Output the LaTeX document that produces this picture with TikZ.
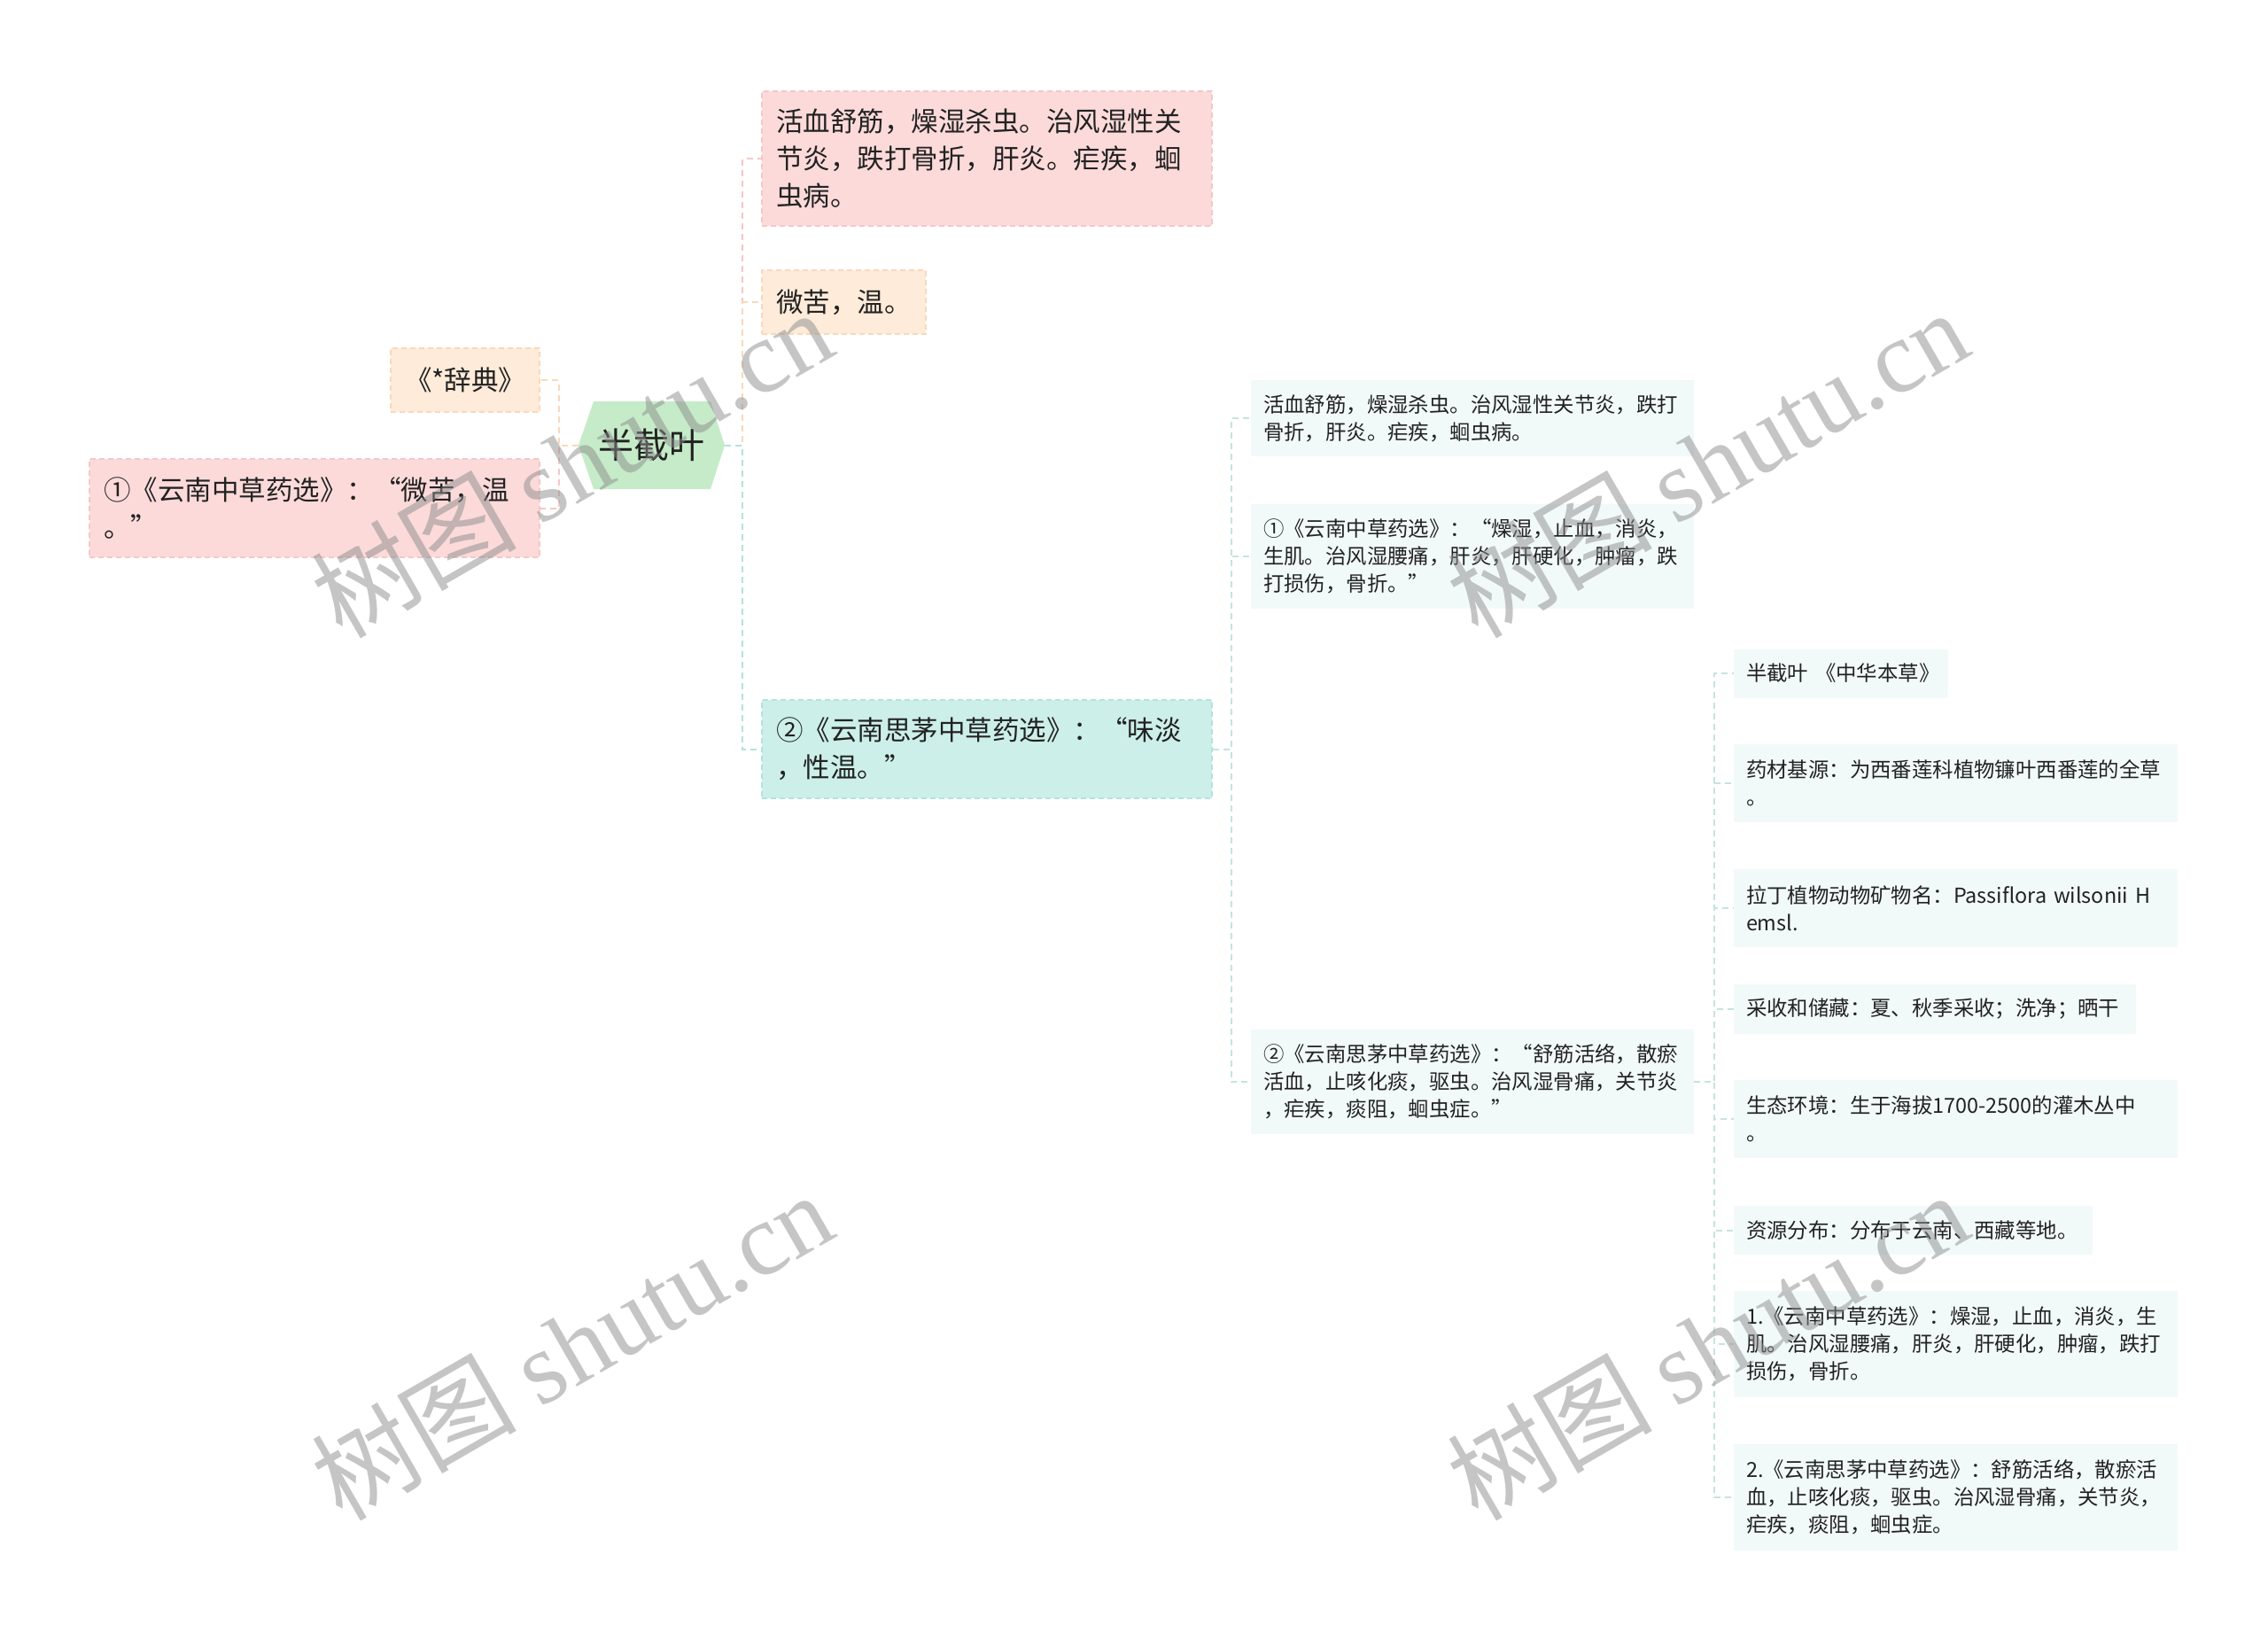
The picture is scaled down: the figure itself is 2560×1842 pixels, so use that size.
\documentclass[tikz,border=0pt]{standalone}
\usepackage{fontspec}
\setmainfont{Noto Sans CJK SC}
\newfontfamily\cjkwm{Noto Sans CJK SC}
\newfontfamily\wmserif{Liberation Serif}
\definecolor{pinkfill}{HTML}{FCDADA}
\definecolor{pinkline}{HTML}{F6C6C6}
\definecolor{orangefill}{HTML}{FEEBD9}
\definecolor{orangeline}{HTML}{FAD8BA}
\definecolor{tealfill}{HTML}{CCEFE9}
\definecolor{tealline}{HTML}{B3E3DA}
\definecolor{greenfill}{HTML}{C6EBC8}
\definecolor{smallfill}{HTML}{F2F9F9}
\definecolor{smallline}{HTML}{C6E3E0}
\definecolor{txt}{HTML}{222222}
\tikzset{
  conn/.style={line width=2pt, dash pattern=on 7pt off 5pt},
  bigbox/.style={rectangle, font=\fontsize{30.5pt}{42pt}\selectfont, inner xsep=16pt, inner ysep=0pt, align=left, text=txt, line width=1.5pt, dash pattern=on 6pt off 4pt},
  smallbox/.style={rectangle, font=\fontsize{23.4pt}{31pt}\selectfont, inner xsep=14pt, inner ysep=0pt, align=left, text=txt, fill=smallfill},
  pinkbox/.style={bigbox, fill=pinkfill, draw=pinkline},
  orangebox/.style={bigbox, fill=orangefill, draw=orangeline},
  tealbox/.style={bigbox, fill=tealfill, draw=tealline},
  wmark/.style={rotate=30, font=\fontsize{116pt}{116pt}\selectfont, text=black!45, text opacity=0.5, inner sep=0pt}
}
\begin{document}
\begin{tikzpicture}[x=1pt,y=1pt]
\fill[white] (0,0) rectangle (2560,-1842);
\useasboundingbox (0,0) rectangle (2560,-1842);

% root hexagon
\fill[greenfill] (653,-502.5) -- (670,-453) -- (802,-453) -- (818,-502.5) -- (802,-552) -- (670,-552) -- cycle;
\node[font=\fontsize{40pt}{40pt}\selectfont, text=txt, minimum width=165pt, minimum height=99pt, inner sep=0pt] (root) at (735.5,-502.5) {半截叶};

% level 1 nodes
\node[pinkbox, text width=476pt, minimum height=152pt] (p1) at (1114,-179) {活血舒筋，燥湿杀虫。治风湿性关\\节炎，跌打骨折，肝炎。疟疾，蛔\\虫病。};
\node[orangebox, text width=153pt, minimum height=72pt] (o1) at (952.5,-341) {微苦，温。};
\node[tealbox, text width=476pt, minimum height=111pt] (t1) at (1114,-845.5) {②《云南思茅中草药选》：“味淡\\，性温。”};
\node[orangebox, text width=136pt, minimum height=72pt] (d1) at (525,-429) {《*辞典》};
\node[pinkbox, text width=476pt, minimum height=111pt] (q1) at (355,-573.5) {①《云南中草药选》：“微苦，温\\。”};

% level 2 nodes
\node[smallbox, text width=472pt, minimum height=86pt] (a2) at (1662,-472) {活血舒筋，燥湿杀虫。治风湿性关节炎，跌打\\骨折，肝炎。疟疾，蛔虫病。};
\node[smallbox, text width=472pt, minimum height=118pt] (b2) at (1662,-628) {①《云南中草药选》：“燥湿，止血，消炎，\\生肌。治风湿腰痛，肝炎，肝硬化，肿瘤，跌\\打损伤，骨折。”};
\node[smallbox, text width=472pt, minimum height=118pt] (c2) at (1662,-1221) {②《云南思茅中草药选》：“舒筋活络，散瘀\\活血，止咳化痰，驱虫。治风湿骨痛，关节炎\\，疟疾，痰阻，蛔虫症。”};

% level 3 nodes
\node[smallbox, text width=214pt, minimum height=55pt] (r1) at (2078,-760) {\mbox{半截叶 《中华本草》}};
\node[smallbox, text width=473pt, minimum height=88pt] (r2) at (2207.5,-884) {药材基源：为西番莲科植物镰叶西番莲的全草\\。};
\node[smallbox, text width=473pt, minimum height=88pt] (r3) at (2207.5,-1025) {拉丁植物动物矿物名：Passiflora wilsonii H\\emsl.};
\node[smallbox, text width=426pt, minimum height=56pt] (r4) at (2184,-1139) {采收和储藏：夏、秋季采收；洗净；晒干};
\node[smallbox, text width=473pt, minimum height=88pt] (r5) at (2207.5,-1263) {生态环境：生于海拔1700-2500的灌木丛中\\。};
\node[smallbox, text width=377pt, minimum height=55pt] (r6) at (2159.5,-1388.5) {资源分布：分布于云南、西藏等地。};
\node[smallbox, text width=473pt, minimum height=120pt] (r7) at (2207.5,-1517) {1.《云南中草药选》：燥湿，止血，消炎，生\\肌。治风湿腰痛，肝炎，肝硬化，肿瘤，跌打\\损伤，骨折。};
\node[smallbox, text width=473pt, minimum height=120pt] (r8) at (2207.5,-1690) {2.《云南思茅中草药选》：舒筋活络，散瘀活\\血，止咳化痰，驱虫。治风湿骨痛，关节炎，\\疟疾，痰阻，蛔虫症。};

% connectors
\draw[conn, pinkline] (root.west) -- ++(-22,0) |- (q1.east);
\draw[conn, orangeline] (root.west) -- ++(-22,0) |- (d1.east);
\draw[conn, pinkline] (root.east) -- ++(20,0) |- (p1.west);
\draw[conn, orangeline] (root.east) -- ++(20,0) |- (o1.west);
\draw[conn, tealline] (root.east) -- ++(20,0) |- (t1.west);
\foreach \n in {a2,b2,c2}{
  \draw[conn, smallline] (t1.east) -- ++(21,0) |- (\n.west);
}
\foreach \n in {r1,r2,r3,r4,r5,r6,r7,r8}{
  \draw[conn, smallline] (c2.east) -- ++(23,0) |- (\n.west);
}

% watermarks
\node[wmark] (w1) at (645,-522) {{\cjkwm 树图} {\wmserif shutu.cn}};
\node[wmark] (w2) at (1927,-522) {{\cjkwm 树图} {\wmserif shutu.cn}};
\node[wmark] (w3) at (645,-1518) {{\cjkwm 树图} {\wmserif shutu.cn}};
\node[wmark] (w4) at (1927,-1518) {{\cjkwm 树图} {\wmserif shutu.cn}};
\end{tikzpicture}
\end{document}
